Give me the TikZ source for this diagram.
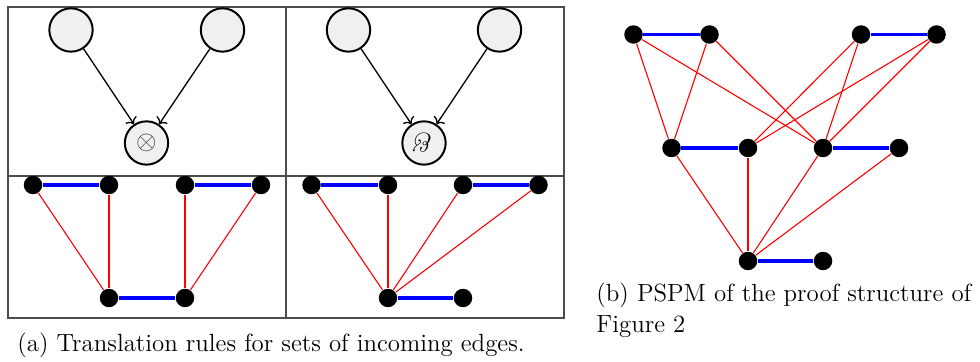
\documentclass[tikz,border=0pt]{standalone}
\usepackage{graphicx}
\usetikzlibrary{arrows.meta}
\begin{document}
\begin{tikzpicture}[x=0.4545pt,y=-0.4545pt,
  bigc/.style={circle,draw,line width=0.9pt,fill=black!6,minimum size=19.7pt,inner sep=0pt},
  dot/.style={circle,fill=black,minimum size=8.4pt,inner sep=0pt},
  arr/.style={-{To[length=2.6pt,width=6pt]},line width=0.6pt},
  bl/.style={blue,line width=1.8pt},
  rd/.style={red,line width=0.5pt},
  frame/.style={draw=black!70,line width=0.6pt},
  captext/.style={anchor=base west,inner sep=0pt,font=\fontsize{11.3pt}{13.6pt}\selectfont}]
\useasboundingbox (0,0) rectangle (980,362);
% frames
\draw[frame] (8,7) rectangle (564,318);
\draw[frame] (286,7) -- (286,318);
\draw[frame] (8,176) -- (564,176);
% top-left panel
\node[bigc] (a1) at (71,30) {};
\node[bigc] (a2) at (222.5,30) {};
\node[bigc] (a3) at (146.5,143) {\color{black!75}\large$\otimes$};
\draw[arr] (a1) -- (a3);
\draw[arr] (a2) -- (a3);
% top-right panel
\node[bigc] (b1) at (348.5,30) {};
\node[bigc] (b2) at (499.5,30) {};
\node[bigc] (b3) at (424,143) {\large\itshape\rotatebox{180}{\&}};
\draw[arr] (b1) -- (b3);
\draw[arr] (b2) -- (b3);
% bottom-left panel
\node[dot] (c1) at (33,185) {};
\node[dot] (c2) at (109,185) {};
\node[dot] (c3) at (185,185) {};
\node[dot] (c4) at (261,185) {};
\node[dot] (c5) at (109,298) {};
\node[dot] (c6) at (185,298) {};
\draw[bl] (c1) -- (c2);
\draw[bl] (c3) -- (c4);
\draw[bl] (c5) -- (c6);
\draw[rd] (c1) -- (c5);
\draw[rd] (c2) -- (c5);
\draw[rd] (c3) -- (c6);
\draw[rd] (c4) -- (c6);
% bottom-right panel
\node[dot] (d1) at (311.5,185) {};
\node[dot] (d2) at (388,185) {};
\node[dot] (d3) at (463,185) {};
\node[dot] (d4) at (538.5,185) {};
\node[dot] (d5) at (388,298) {};
\node[dot] (d6) at (463,298) {};
\draw[bl] (d1) -- (d2);
\draw[bl] (d3) -- (d4);
\draw[bl] (d5) -- (d6);
\draw[rd] (d1) -- (d5);
\draw[rd] (d2) -- (d5);
\draw[rd] (d3) -- (d5);
\draw[rd] (d4) -- (d5);
% caption a
\node[captext] (capa) at (17,352) {(a) Translation rules for sets of incoming edges.};
% part b
\node[dot] (e1) at (633.5,34.5) {};
\node[dot] (e2) at (709.5,34.5) {};
\node[dot] (e3) at (861,34.5) {};
\node[dot] (e4) at (936.5,34.5) {};
\node[dot] (f1) at (671.5,148) {};
\node[dot] (f2) at (748,148) {};
\node[dot] (f3) at (823,148) {};
\node[dot] (f4) at (899,148) {};
\node[dot] (g1) at (748,261) {};
\node[dot] (g2) at (823,261) {};
\draw[bl] (e1) -- (e2);
\draw[bl] (e3) -- (e4);
\draw[bl] (f1) -- (f2);
\draw[bl] (f3) -- (f4);
\draw[bl] (g1) -- (g2);
\draw[rd] (e1) -- (f1);
\draw[rd] (e1) -- (f3);
\draw[rd] (e2) -- (f1);
\draw[rd] (e2) -- (f3);
\draw[rd] (e3) -- (f2);
\draw[rd] (e3) -- (f3);
\draw[rd] (e4) -- (f2);
\draw[rd] (e4) -- (f3);
\draw[rd] (f1) -- (g1);
\draw[rd] (f2) -- (g1);
\draw[rd] (f3) -- (g1);
\draw[rd] (f4) -- (g1);
\node[captext] (capb1) at (596,302) {(b) PSPM of the proof structure of};
\node[captext] (capb2) at (596,333) {Figure 2};
\end{tikzpicture}
\end{document}
